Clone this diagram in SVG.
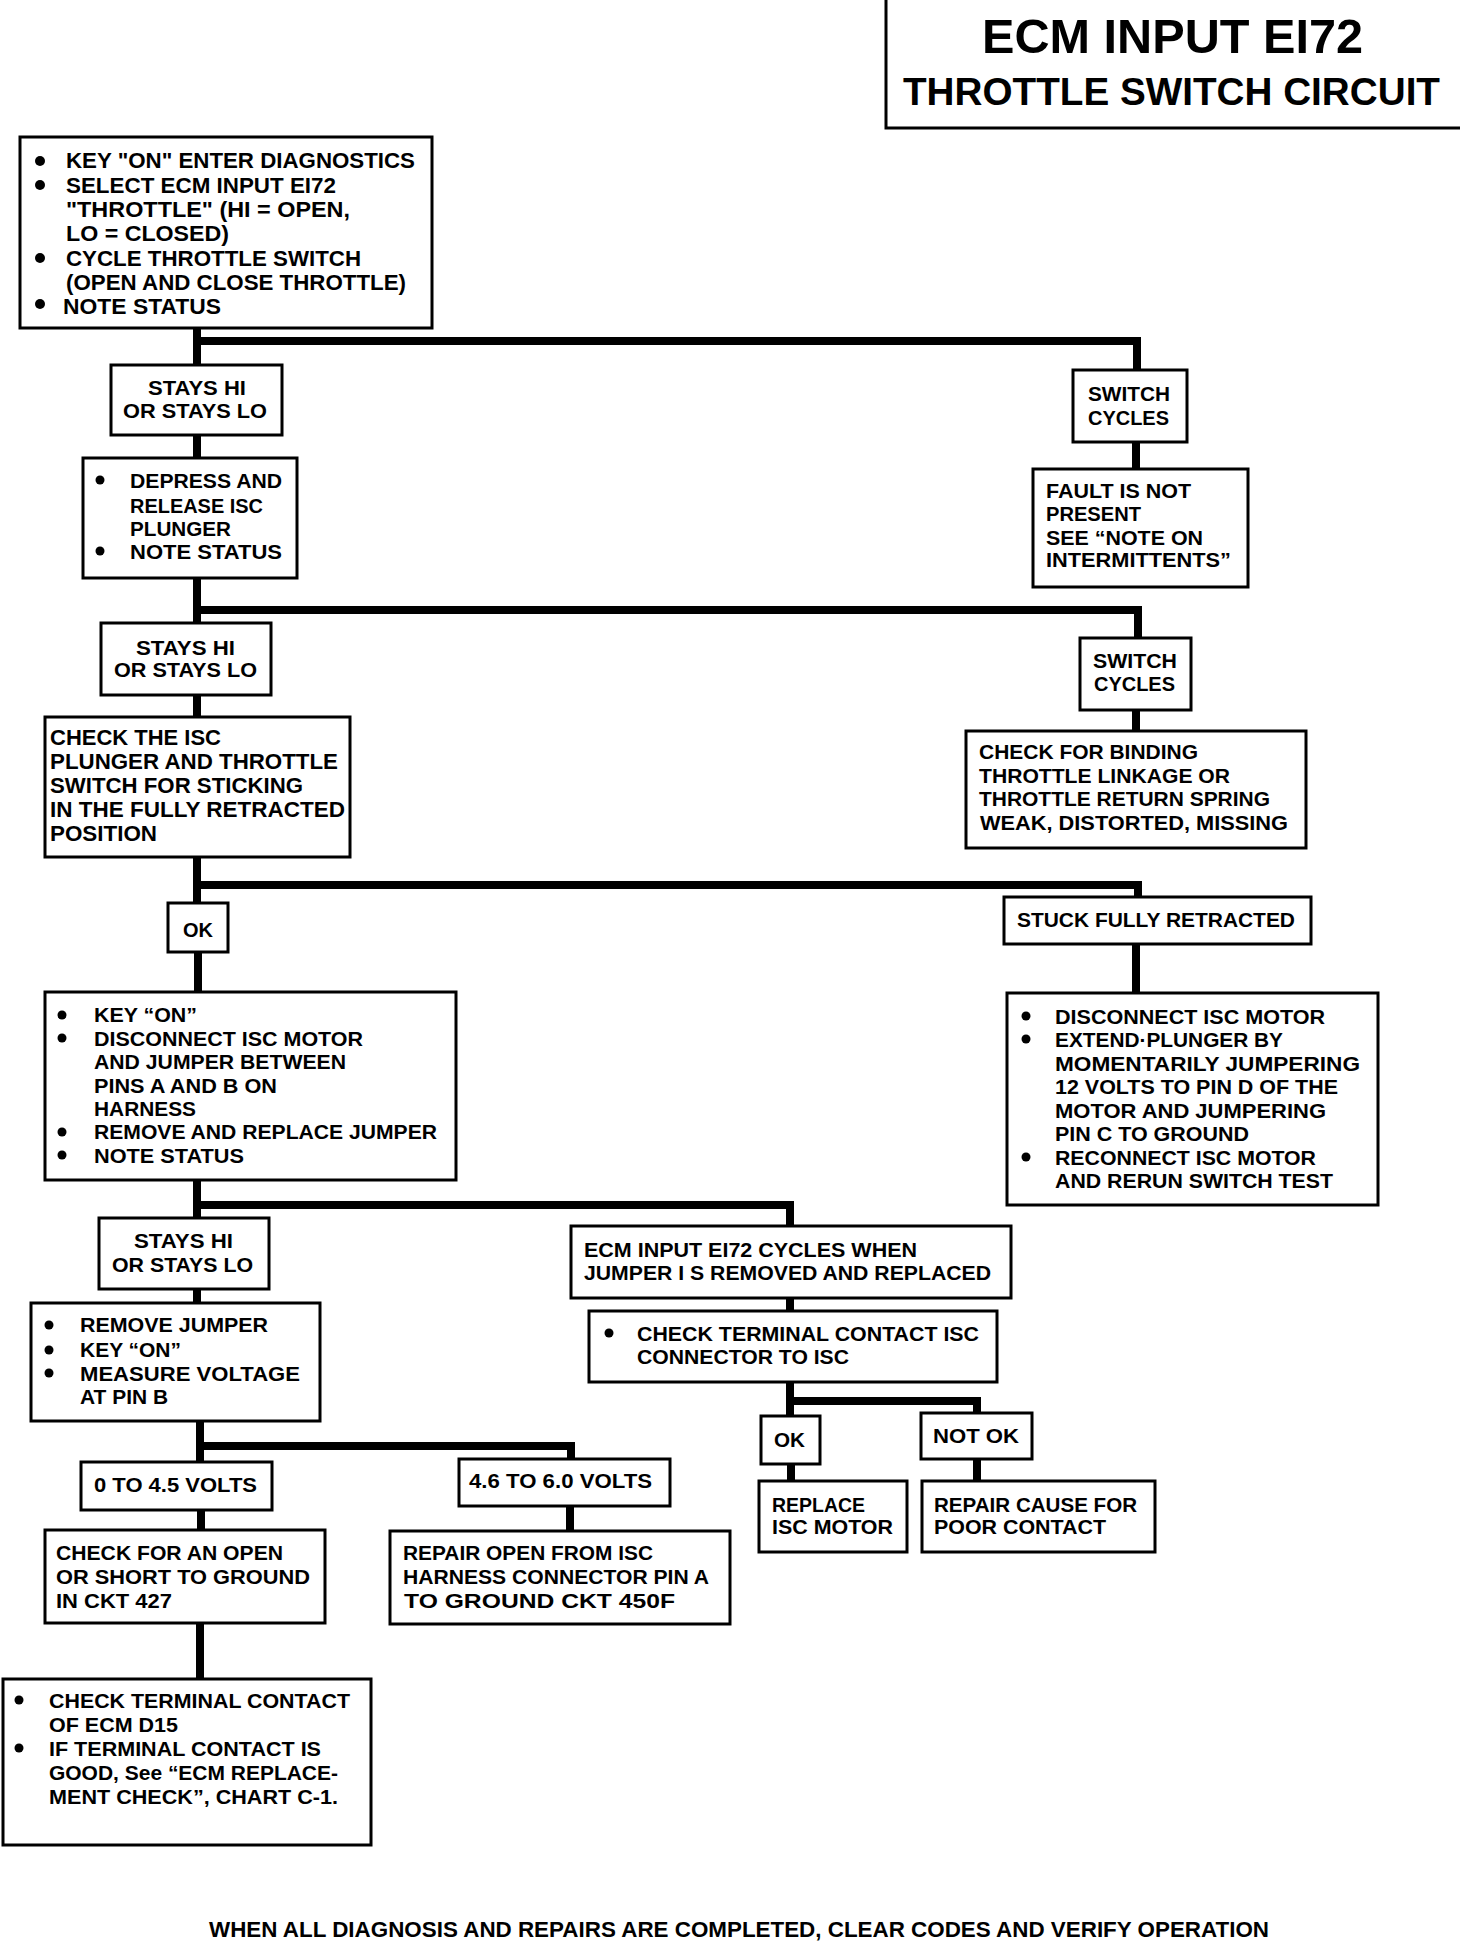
<svg xmlns="http://www.w3.org/2000/svg" width="1472" height="1942" viewBox="0 0 1472 1942">
<style>
.b{fill:#fff;stroke:#000;stroke-width:3}
.c{fill:none;stroke:#000;stroke-width:8;stroke-linejoin:miter}
text{font-family:"Liberation Sans",Arial,sans-serif;font-weight:bold;fill:#000}
.h{font-size:21.5px}
.u{font-size:20px}
.s{font-size:19.5px}
.u2{font-size:20.5px}
.d{fill:#000}
</style>
<rect width="1472" height="1942" fill="#fff"/>
<g id="title">
<path d="M886,0 V128 H1460" fill="none" stroke="#000" stroke-width="3"/>
<text style="font-size:48px" x="982" y="53" textLength="381" lengthAdjust="spacingAndGlyphs">ECM INPUT EI72</text>
<text style="font-size:38px" x="903" y="105" textLength="537" lengthAdjust="spacingAndGlyphs">THROTTLE  SWITCH   CIRCUIT</text>
</g>
<g id="connectors">
<path class="c" d="M197,328 V365 M197,341 H1137 V370"/>
<path class="c" d="M197,435 V458"/>
<path class="c" d="M1136,442 V469"/>
<path class="c" d="M197,578 V623 M197,610 H1138 V638"/>
<path class="c" d="M197,695 V717"/>
<path class="c" d="M1136,710 V731"/>
<path class="c" d="M197,858 V903 M197,885 H1138 V897"/>
<path class="c" d="M198,952 V992"/>
<path class="c" d="M1136,944 V993"/>
<path class="c" d="M197,1181 V1218 M197,1205 H790 V1226"/>
<path class="c" d="M197,1289 V1303"/>
<path class="c" d="M790,1298 V1311"/>
<path class="c" d="M200,1421 V1462 M200,1446 H571 V1459"/>
<path class="c" d="M201,1510 V1530"/>
<path class="c" d="M570,1506 V1531"/>
<path class="c" d="M790,1382 V1416 M790,1401 H977 V1413"/>
<path class="c" d="M791,1464 V1481"/>
<path class="c" d="M977,1459 V1481"/>
<path class="c" d="M200,1623 V1679"/>
</g>
<g id="start">
<rect class="b" x="20" y="137" width="412" height="191"/>
<circle class="d" cx="40" cy="161" r="5"/>
<circle class="d" cx="40" cy="185" r="5"/>
<circle class="d" cx="40" cy="258" r="5"/>
<circle class="d" cx="40" cy="304" r="5"/>
<text class="h" x="66" y="168" textLength="349" lengthAdjust="spacingAndGlyphs">KEY "ON" ENTER DIAGNOSTICS</text>
<text class="h" x="66" y="193" textLength="270" lengthAdjust="spacingAndGlyphs">SELECT ECM INPUT EI72</text>
<text class="h" x="66" y="217" textLength="284" lengthAdjust="spacingAndGlyphs">"THROTTLE" (HI = OPEN,</text>
<text class="h" x="66" y="241" textLength="163" lengthAdjust="spacingAndGlyphs">LO = CLOSED)</text>
<text class="h" x="66" y="266" textLength="295" lengthAdjust="spacingAndGlyphs">CYCLE THROTTLE SWITCH</text>
<text class="h" x="66" y="290" textLength="340" lengthAdjust="spacingAndGlyphs">(OPEN AND CLOSE THROTTLE)</text>
<text class="h" x="63" y="314" textLength="158" lengthAdjust="spacingAndGlyphs">NOTE STATUS</text>
</g>
<g id="stays1">
<rect class="b" x="111" y="365" width="171" height="70"/>
<text class="s" x="148" y="395" textLength="98" lengthAdjust="spacingAndGlyphs">STAYS HI</text>
<text class="s" x="123" y="418" textLength="144" lengthAdjust="spacingAndGlyphs">OR STAYS LO</text>
</g>
<g id="cycles1">
<rect class="b" x="1073" y="370" width="114" height="72"/>
<text class="u" x="1088" y="401" textLength="82" lengthAdjust="spacingAndGlyphs">SWITCH</text>
<text class="u" x="1088" y="425" textLength="81" lengthAdjust="spacingAndGlyphs">CYCLES</text>
</g>
<g id="depress">
<rect class="b" x="83" y="458" width="214" height="120"/>
<circle class="d" cx="100" cy="480" r="4.5"/>
<circle class="d" cx="100" cy="551" r="4.5"/>
<text class="u" x="130" y="488" textLength="152" lengthAdjust="spacingAndGlyphs">DEPRESS AND</text>
<text class="u" x="130" y="513" textLength="133" lengthAdjust="spacingAndGlyphs">RELEASE ISC</text>
<text class="u" x="130" y="536" textLength="101" lengthAdjust="spacingAndGlyphs">PLUNGER</text>
<text class="u" x="130" y="559" textLength="152" lengthAdjust="spacingAndGlyphs">NOTE STATUS</text>
</g>
<g id="fault">
<rect class="b" x="1033" y="469" width="215" height="118"/>
<text class="s" x="1046" y="498" textLength="145" lengthAdjust="spacingAndGlyphs">FAULT IS NOT</text>
<text class="s" x="1046" y="521" textLength="95" lengthAdjust="spacingAndGlyphs">PRESENT</text>
<text class="s" x="1046" y="545" textLength="157" lengthAdjust="spacingAndGlyphs">SEE “NOTE ON</text>
<text class="s" x="1046" y="567" textLength="185" lengthAdjust="spacingAndGlyphs">INTERMITTENTS”</text>
</g>
<g id="stays2">
<rect class="b" x="101" y="623" width="170" height="72"/>
<text class="s" x="136" y="655" textLength="99" lengthAdjust="spacingAndGlyphs">STAYS HI</text>
<text class="s" x="114" y="677" textLength="143" lengthAdjust="spacingAndGlyphs">OR STAYS LO</text>
</g>
<g id="cycles2">
<rect class="b" x="1080" y="638" width="111" height="72"/>
<text class="s" x="1093" y="668" textLength="84" lengthAdjust="spacingAndGlyphs">SWITCH</text>
<text class="s" x="1094" y="691" textLength="81" lengthAdjust="spacingAndGlyphs">CYCLES</text>
</g>
<g id="checkisc">
<rect class="b" x="45" y="717" width="305" height="140"/>
<text class="h" x="50" y="745" textLength="171" lengthAdjust="spacingAndGlyphs">CHECK THE ISC</text>
<text class="h" x="50" y="769" textLength="288" lengthAdjust="spacingAndGlyphs">PLUNGER AND THROTTLE</text>
<text class="h" x="50" y="793" textLength="253" lengthAdjust="spacingAndGlyphs">SWITCH FOR STICKING</text>
<text class="h" x="50" y="817" textLength="295" lengthAdjust="spacingAndGlyphs">IN THE FULLY RETRACTED</text>
<text class="h" x="50" y="841" textLength="107" lengthAdjust="spacingAndGlyphs">POSITION</text>
</g>
<g id="binding">
<rect class="b" x="966" y="731" width="340" height="117"/>
<text class="u" x="979" y="759" textLength="219" lengthAdjust="spacingAndGlyphs">CHECK FOR BINDING</text>
<text class="u" x="979" y="783" textLength="251" lengthAdjust="spacingAndGlyphs">THROTTLE LINKAGE OR</text>
<text class="u" x="979" y="806" textLength="291" lengthAdjust="spacingAndGlyphs">THROTTLE RETURN SPRING</text>
<text class="u" x="980" y="830" textLength="308" lengthAdjust="spacingAndGlyphs">WEAK, DISTORTED, MISSING</text>
</g>
<g id="ok1">
<rect class="b" x="168" y="903" width="60" height="49"/>
<text class="u2" x="183" y="937" textLength="30" lengthAdjust="spacingAndGlyphs">OK</text>
</g>
<g id="stuck">
<rect class="b" x="1004" y="897" width="307" height="47"/>
<text class="u2" x="1017" y="927" textLength="278" lengthAdjust="spacingAndGlyphs">STUCK FULLY RETRACTED</text>
</g>
<g id="keyon">
<rect class="b" x="45" y="992" width="411" height="188"/>
<circle class="d" cx="62" cy="1015" r="4.5"/>
<circle class="d" cx="62" cy="1038" r="4.5"/>
<circle class="d" cx="62" cy="1132" r="4.5"/>
<circle class="d" cx="62" cy="1155" r="4.5"/>
<text class="u" x="94" y="1022" textLength="103" lengthAdjust="spacingAndGlyphs">KEY “ON”</text>
<text class="u" x="94" y="1046" textLength="269" lengthAdjust="spacingAndGlyphs">DISCONNECT ISC MOTOR</text>
<text class="u" x="94" y="1069" textLength="252" lengthAdjust="spacingAndGlyphs">AND JUMPER BETWEEN</text>
<text class="u" x="94" y="1093" textLength="183" lengthAdjust="spacingAndGlyphs">PINS A AND B ON</text>
<text class="u" x="94" y="1116" textLength="102" lengthAdjust="spacingAndGlyphs">HARNESS</text>
<text class="u" x="94" y="1139" textLength="343" lengthAdjust="spacingAndGlyphs">REMOVE AND REPLACE JUMPER</text>
<text class="u" x="94" y="1163" textLength="150" lengthAdjust="spacingAndGlyphs">NOTE STATUS</text>
</g>
<g id="disconnect">
<rect class="b" x="1007" y="993" width="371" height="212"/>
<circle class="d" cx="1026" cy="1016" r="4.5"/>
<circle class="d" cx="1026" cy="1039" r="4.5"/>
<circle class="d" cx="1026" cy="1157" r="4.5"/>
<text class="u" x="1055" y="1024" textLength="270" lengthAdjust="spacingAndGlyphs">DISCONNECT ISC MOTOR</text>
<text class="u" x="1055" y="1047" textLength="228" lengthAdjust="spacingAndGlyphs">EXTEND·PLUNGER BY</text>
<text class="u" x="1055" y="1071" textLength="305" lengthAdjust="spacingAndGlyphs">MOMENTARILY  JUMPERING</text>
<text class="u" x="1055" y="1094" textLength="283" lengthAdjust="spacingAndGlyphs">12 VOLTS TO PIN D OF THE</text>
<text class="u" x="1055" y="1118" textLength="271" lengthAdjust="spacingAndGlyphs">MOTOR AND JUMPERING</text>
<text class="u" x="1055" y="1141" textLength="194" lengthAdjust="spacingAndGlyphs">PIN C TO GROUND</text>
<text class="u" x="1055" y="1165" textLength="261" lengthAdjust="spacingAndGlyphs">RECONNECT ISC MOTOR</text>
<text class="u" x="1055" y="1188" textLength="278" lengthAdjust="spacingAndGlyphs">AND RERUN SWITCH TEST</text>
</g>
<g id="stays3">
<rect class="b" x="99" y="1218" width="170" height="71"/>
<text class="s" x="134" y="1248" textLength="99" lengthAdjust="spacingAndGlyphs">STAYS HI</text>
<text class="s" x="112" y="1272" textLength="141" lengthAdjust="spacingAndGlyphs">OR STAYS LO</text>
</g>
<g id="ecmcycles">
<rect class="b" x="571" y="1226" width="440" height="72"/>
<text class="u" x="584" y="1257" textLength="333" lengthAdjust="spacingAndGlyphs">ECM INPUT EI72 CYCLES WHEN</text>
<text class="u" x="584" y="1280" textLength="407" lengthAdjust="spacingAndGlyphs">JUMPER I S REMOVED AND REPLACED</text>
</g>
<g id="removejumper">
<rect class="b" x="31" y="1303" width="289" height="118"/>
<circle class="d" cx="49" cy="1325" r="4.5"/>
<circle class="d" cx="49" cy="1350" r="4.5"/>
<circle class="d" cx="49" cy="1373" r="4.5"/>
<text class="u" x="80" y="1332" textLength="188" lengthAdjust="spacingAndGlyphs">REMOVE JUMPER</text>
<text class="u" x="80" y="1357" textLength="101" lengthAdjust="spacingAndGlyphs">KEY “ON”</text>
<text class="u" x="80" y="1381" textLength="220" lengthAdjust="spacingAndGlyphs">MEASURE  VOLTAGE</text>
<text class="u" x="80" y="1404" textLength="88" lengthAdjust="spacingAndGlyphs">AT PIN B</text>
</g>
<g id="checkterm">
<rect class="b" x="589" y="1311" width="408" height="71"/>
<circle class="d" cx="609" cy="1333" r="4.5"/>
<text class="u" x="637" y="1341" textLength="342" lengthAdjust="spacingAndGlyphs">CHECK TERMINAL CONTACT ISC</text>
<text class="u" x="637" y="1364" textLength="212" lengthAdjust="spacingAndGlyphs">CONNECTOR TO ISC</text>
</g>
<g id="ok2">
<rect class="b" x="761" y="1416" width="59" height="48"/>
<text class="u2" x="774" y="1447" textLength="31" lengthAdjust="spacingAndGlyphs">OK</text>
</g>
<g id="notok">
<rect class="b" x="921" y="1413" width="111" height="46"/>
<text class="u2" x="933" y="1443" textLength="86" lengthAdjust="spacingAndGlyphs">NOT OK</text>
</g>
<g id="v045">
<rect class="b" x="81" y="1462" width="191" height="48"/>
<text class="u2" x="94" y="1492" textLength="163" lengthAdjust="spacingAndGlyphs">0 TO 4.5 VOLTS</text>
</g>
<g id="v460">
<rect class="b" x="459" y="1459" width="211" height="47"/>
<text class="u2" x="469" y="1488" textLength="183" lengthAdjust="spacingAndGlyphs">4.6 TO 6.0 VOLTS</text>
</g>
<g id="replace">
<rect class="b" x="759" y="1481" width="148" height="71"/>
<text class="s" x="772" y="1512" textLength="93" lengthAdjust="spacingAndGlyphs">REPLACE</text>
<text class="s" x="772" y="1534" textLength="121" lengthAdjust="spacingAndGlyphs">ISC MOTOR</text>
</g>
<g id="repaircause">
<rect class="b" x="922" y="1481" width="233" height="71"/>
<text class="s" x="934" y="1512" textLength="203" lengthAdjust="spacingAndGlyphs">REPAIR CAUSE FOR</text>
<text class="s" x="934" y="1534" textLength="172" lengthAdjust="spacingAndGlyphs">POOR CONTACT</text>
</g>
<g id="checkopen">
<rect class="b" x="45" y="1530" width="280" height="93"/>
<text class="u2" x="56" y="1560" textLength="227" lengthAdjust="spacingAndGlyphs">CHECK FOR AN OPEN</text>
<text class="u2" x="56" y="1584" textLength="254" lengthAdjust="spacingAndGlyphs">OR SHORT TO GROUND</text>
<text class="u2" x="56" y="1608" textLength="116" lengthAdjust="spacingAndGlyphs">IN CKT 427</text>
</g>
<g id="repairopen">
<rect class="b" x="390" y="1531" width="340" height="93"/>
<text class="u2" x="403" y="1560" textLength="250" lengthAdjust="spacingAndGlyphs">REPAIR OPEN FROM ISC</text>
<text class="u2" x="403" y="1584" textLength="306" lengthAdjust="spacingAndGlyphs">HARNESS CONNECTOR PIN A</text>
<text class="u2" x="404" y="1608" textLength="271" lengthAdjust="spacingAndGlyphs">TO GROUND CKT 450F</text>
</g>
<g id="checkecm">
<rect class="b" x="3" y="1679" width="368" height="166"/>
<circle class="d" cx="19" cy="1700" r="4.5"/>
<circle class="d" cx="19" cy="1748" r="4.5"/>
<text class="u2" x="49" y="1708" textLength="301" lengthAdjust="spacingAndGlyphs">CHECK TERMINAL CONTACT</text>
<text class="u2" x="49" y="1732" textLength="129" lengthAdjust="spacingAndGlyphs">OF ECM D15</text>
<text class="u2" x="49" y="1756" textLength="272" lengthAdjust="spacingAndGlyphs">IF TERMINAL CONTACT IS</text>
<text class="u2" x="49" y="1780" textLength="289" lengthAdjust="spacingAndGlyphs">GOOD, See “ECM REPLACE-</text>
<text class="u2" x="49" y="1804" textLength="289" lengthAdjust="spacingAndGlyphs">MENT CHECK”, CHART C-1.</text>
</g>
<g id="footer">
<text style="font-size:22px" x="209" y="1937" textLength="1060" lengthAdjust="spacingAndGlyphs">WHEN ALL DIAGNOSIS AND REPAIRS ARE COMPLETED, CLEAR CODES AND VERIFY OPERATION</text>
</g>
</svg>
